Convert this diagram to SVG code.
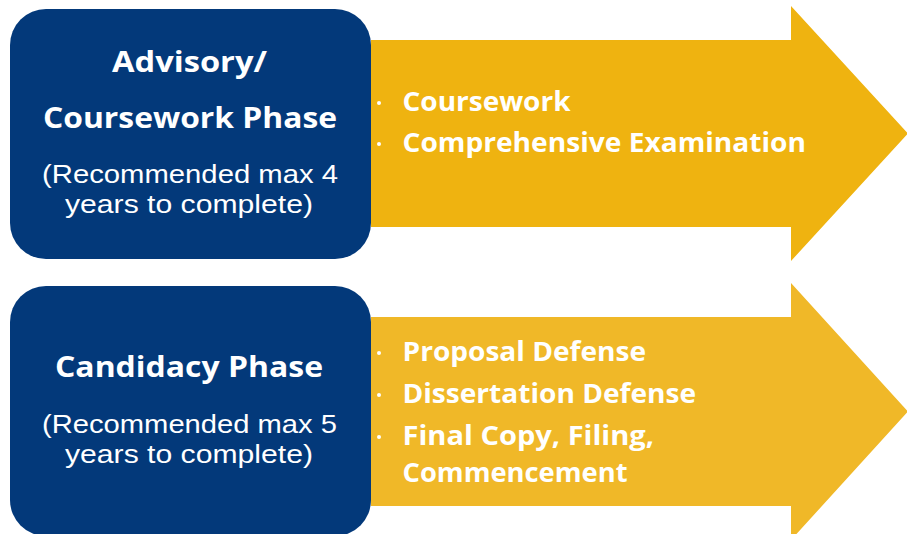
<svg xmlns="http://www.w3.org/2000/svg" width="907" height="534" viewBox="0 0 907 534">
<style>
.box{fill:#03397A}
.title{font-family:"Open Sans","Liberation Sans",sans-serif;font-weight:700;font-size:29px;fill:#fff;text-anchor:middle}
.sub{font-family:"Liberation Sans","Open Sans",sans-serif;font-weight:400;font-size:26px;fill:#fff;text-anchor:middle}
.item{font-family:"Open Sans","Liberation Sans",sans-serif;font-weight:700;font-size:26px;fill:#fff}
.dot{fill:#fff}
</style>
<rect width="907" height="534" fill="#fff"/>
<g id="connectors">
<polygon id="arrow1" points="371,40 791,40 791,6 908,133.5 791,261 791,227 371,227" fill="#EFB310"/>
<polygon id="arrow2" points="371,317 791,317 791,283 908,411.5 791,540 791,506 371,506" fill="#F0B828"/>
</g>
<g id="advisory">
<rect class="box" x="10" y="9" width="361" height="250" rx="36" ry="36"/>
<text class="title" x="189.5" y="72" textLength="155" lengthAdjust="spacingAndGlyphs">Advisory/</text>
<text class="title" x="190" y="128" textLength="294" lengthAdjust="spacingAndGlyphs">Coursework Phase</text>
<text class="sub" x="190" y="183" textLength="296" lengthAdjust="spacingAndGlyphs">(Recommended max 4</text>
<text class="sub" x="189" y="213" textLength="248" lengthAdjust="spacingAndGlyphs">years to complete)</text>
</g>
<g id="advisory-items">
<circle class="dot" cx="379" cy="103" r="2"/>
<text class="item" x="402.5" y="110.7" textLength="168" lengthAdjust="spacingAndGlyphs">Coursework</text>
<circle class="dot" cx="379" cy="144" r="2"/>
<text class="item" x="402.5" y="151.7" textLength="403.5" lengthAdjust="spacingAndGlyphs">Comprehensive Examination</text>
</g>
<g id="candidacy">
<rect class="box" x="10" y="286" width="361" height="250" rx="36" ry="36"/>
<text class="title" x="189" y="377" textLength="268" lengthAdjust="spacingAndGlyphs">Candidacy Phase</text>
<text class="sub" x="189.5" y="433" textLength="295" lengthAdjust="spacingAndGlyphs">(Recommended max 5</text>
<text class="sub" x="189" y="463" textLength="248" lengthAdjust="spacingAndGlyphs">years to complete)</text>
</g>
<g id="candidacy-items">
<circle class="dot" cx="379" cy="353" r="2"/>
<text class="item" x="402.5" y="360.7" textLength="243.5" lengthAdjust="spacingAndGlyphs">Proposal Defense</text>
<circle class="dot" cx="379" cy="395" r="2"/>
<text class="item" x="402.5" y="402.7" textLength="293.5" lengthAdjust="spacingAndGlyphs">Dissertation Defense</text>
<circle class="dot" cx="379" cy="437" r="2"/>
<text class="item" x="402.5" y="445" textLength="251.5" lengthAdjust="spacingAndGlyphs">Final Copy, Filing,</text>
<text class="item" x="402.5" y="481.7" textLength="225" lengthAdjust="spacingAndGlyphs">Commencement</text>
</g>
</svg>
